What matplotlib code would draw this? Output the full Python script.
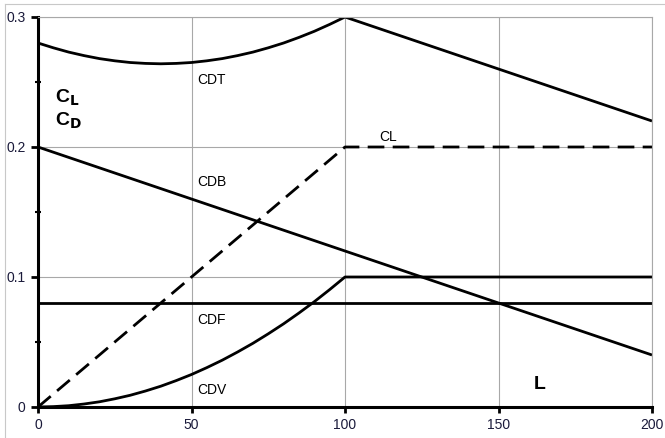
import matplotlib
matplotlib.use("Agg")
import matplotlib.pyplot as plt
from matplotlib.lines import Line2D
from matplotlib.ticker import MultipleLocator

plt.rcParams['font.family'] = ['Liberation Sans', 'DejaVu Sans']

# Data
x_curve = [0, 5, 10, 15, 20, 25, 30, 35, 40, 45, 50, 55, 60, 65, 70, 75, 80, 85, 90, 95, 100, 200]
cdt = [0.2800, 0.2763, 0.2730, 0.2703, 0.2680, 0.2663, 0.2650, 0.2643, 0.2640, 0.2643,
       0.2650, 0.2663, 0.2680, 0.2703, 0.2730, 0.2763, 0.2800, 0.2843, 0.2890, 0.2943, 0.3000, 0.2200]
cdv = [0.0000, 0.0003, 0.0010, 0.0023, 0.0040, 0.0063, 0.0090, 0.0123, 0.0160, 0.0203,
       0.0250, 0.0303, 0.0360, 0.0423, 0.0490, 0.0563, 0.0640, 0.0723, 0.0810, 0.0903, 0.1000, 0.1000]
x_lin = [0, 100, 200]
cl = [0.0, 0.2, 0.2]
cdb = [0.20, 0.12, 0.04]
cdf = [0.08, 0.08, 0.08]

xticks = [0, 50, 100, 150, 200]
yticks = [0, 0.1, 0.2, 0.3]
ytick_labels = ['0', '0.1', '0.2', '0.3']

fig = plt.figure(figsize=(6.65, 4.38), dpi=100)
ax = fig.add_axes([38/665, 31/438, 614/665, 390/438])

lw = 2.0
ax.plot(x_curve, cdt, color='black', lw=lw, solid_capstyle='butt', solid_joinstyle='round')
ax.plot(x_curve, cdv, color='black', lw=lw, solid_capstyle='butt', solid_joinstyle='round')
ax.plot(x_lin, cdb, color='black', lw=lw, solid_capstyle='butt')
ax.plot(x_lin, cdf, color='black', lw=lw, solid_capstyle='butt')
ax.plot(x_lin, cl, color='black', lw=lw, dashes=(6, 3))

ax.set_xlim(0, 200)
ax.set_ylim(0, 0.3)
ax.set_xticks(xticks)
ax.set_xticklabels([str(v) for v in xticks])
ax.set_yticks(yticks)
ax.set_yticklabels(ytick_labels)
ax.yaxis.set_minor_locator(MultipleLocator(0.05))
ax.grid(True, which='major', color='#a8a8a8', lw=0.8)
ax.set_axisbelow(True)

for s in ['top', 'right']:
    ax.spines[s].set_color('#a8a8a8')
    ax.spines[s].set_linewidth(0.8)
for s in ['left', 'bottom']:
    ax.spines[s].set_color('black')
    ax.spines[s].set_linewidth(2.2)

ax.tick_params(axis='both', which='major', direction='out', length=5, width=2, color='black',
               labelsize=10, labelcolor='#1a1a3a')
ax.tick_params(axis='y', which='major', pad=4)
ax.tick_params(axis='y', which='minor', direction='inout', length=5, width=1.5, color='black')
ax.tick_params(axis='x', which='major', length=4, pad=4)

fs = 10
ax.text(52, 0.2515, 'CDT', fontsize=fs, va='center', ha='left')
ax.text(52, 0.173, 'CDB', fontsize=fs, va='center', ha='left')
ax.text(111, 0.2077, 'CL', fontsize=fs, va='center', ha='left')
ax.text(52, 0.067, 'CDF', fontsize=fs, va='center', ha='left')
ax.text(52, 0.013, 'CDV', fontsize=fs, va='center', ha='left')
ax.text(163.5, 0.017, 'L', fontsize=14, fontweight='bold', va='center', ha='center')
ax.text(5.5, 0.238, r'C$_\mathbf{L}$', fontsize=14, fontweight='bold', va='center', ha='left')
ax.text(5.5, 0.220, r'C$_\mathbf{D}$', fontsize=14, fontweight='bold', va='center', ha='left')

# outer light border
fig.add_artist(Line2D([5/665, 5/665], [0, 1 - 4/438], transform=fig.transFigure, color='#c8c8c8', lw=0.8))
fig.add_artist(Line2D([5/665, 1], [1 - 4/438, 1 - 4/438], transform=fig.transFigure, color='#c8c8c8', lw=0.8))

fig.savefig('out.png', dpi=100)
